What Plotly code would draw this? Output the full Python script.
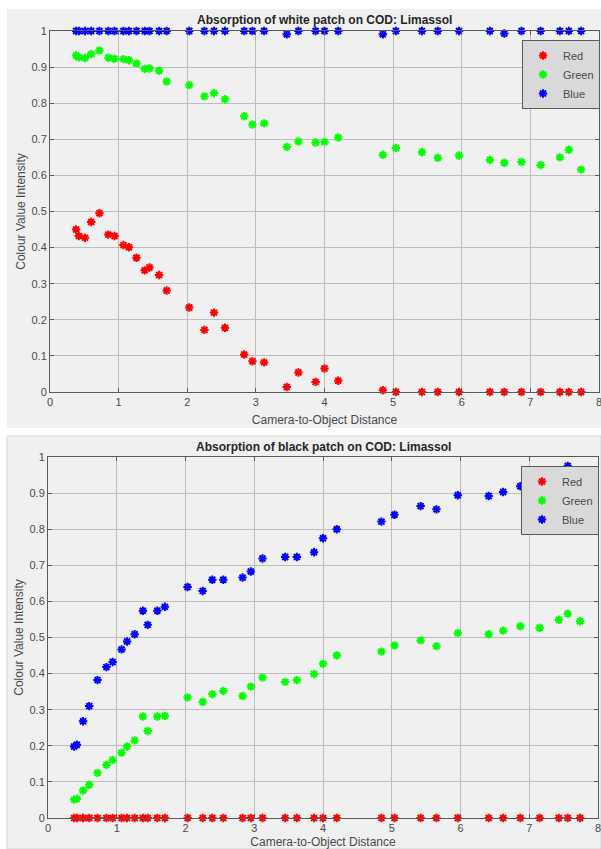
import plotly.graph_objects as go

W, H = 601, 849

# ---------------- data ----------------
dist = [0.38, 0.42, 0.51, 0.60, 0.72, 0.85, 0.94, 1.07, 1.15, 1.26, 1.38, 1.45, 1.59, 1.70,
        2.03, 2.25, 2.39, 2.55, 2.83, 2.95, 3.12, 3.45, 3.62, 3.87, 4.00, 4.20, 4.85, 5.04,
        5.42, 5.65, 5.96, 6.41, 6.62, 6.87, 7.15, 7.43, 7.56, 7.74]

white_red = [0.450, 0.432, 0.427, 0.471, 0.495, 0.436, 0.432, 0.407, 0.401, 0.372, 0.337, 0.345,
             0.324, 0.281, 0.234, 0.172, 0.220, 0.178, 0.104, 0.085, 0.082, 0.014, 0.054, 0.028,
             0.065, 0.031, 0.005, 0.0, 0.0, 0.0, 0.0, 0.0, 0.0, 0.0, 0.0, 0.0, 0.0, 0.0]
white_green = [0.932, 0.927, 0.925, 0.936, 0.946, 0.926, 0.923, 0.922, 0.919, 0.910, 0.895, 0.896,
               0.890, 0.860, 0.850, 0.819, 0.828, 0.811, 0.764, 0.741, 0.744, 0.679, 0.694, 0.691,
               0.693, 0.705, 0.657, 0.676, 0.664, 0.649, 0.655, 0.643, 0.635, 0.637, 0.629, 0.650,
               0.671, 0.616]
white_blue = [1.0, 1.0, 1.0, 1.0, 1.0, 1.0, 1.0, 1.0, 1.0, 1.0, 1.0, 1.0, 1.0, 1.0, 1.0, 1.0, 1.0,
              1.0, 1.0, 1.0, 1.0, 0.991, 1.0, 1.0, 1.0, 1.0, 0.991, 1.0, 1.0, 1.0, 1.0, 1.0, 0.993,
              1.0, 1.0, 1.0, 1.0, 1.0]

black_red = [0.0, 0.0, 0.0, 0.0, 0.0, 0.0, 0.0, 0.0, 0.0, 0.0, 0.0, 0.0, 0.0, 0.0, 0.0, 0.0, 0.0,
             0.0, 0.0, 0.0, 0.0, 0.0, 0.0, 0.0, 0.0, 0.0, 0.0, 0.0, 0.0, 0.0, 0.0, 0.0, 0.0, 0.0,
             0.0, 0.0, 0.0, 0.0]
black_green = [0.051, 0.053, 0.076, 0.092, 0.125, 0.147, 0.161, 0.181, 0.198, 0.215, 0.281, 0.241,
               0.281, 0.283, 0.334, 0.322, 0.343, 0.352, 0.338, 0.364, 0.389, 0.377, 0.382, 0.399,
               0.427, 0.450, 0.461, 0.478, 0.492, 0.476, 0.512, 0.509, 0.519, 0.531, 0.527, 0.549,
               0.566, 0.545]
black_blue = [0.198, 0.203, 0.268, 0.310, 0.382, 0.418, 0.432, 0.467, 0.489, 0.509, 0.574, 0.535,
              0.574, 0.585, 0.640, 0.629, 0.660, 0.660, 0.666, 0.683, 0.719, 0.723, 0.723, 0.736,
              0.775, 0.800, 0.821, 0.840, 0.864, 0.855, 0.894, 0.892, 0.903, 0.919, 0.930, 0.950,
              0.975, 0.960]

series_names = ["Red", "Green", "Blue"]
series_colors = ["#ff0000", "#00ff00", "#0000ff"]
titles = ["Absorption of white patch on COD: Limassol", "Absorption of black patch on COD: Limassol"]
x_title = "Camera-to-Object Distance"
y_title = "Colour Value Intensity"
x_ticks = [0, 1, 2, 3, 4, 5, 6, 7, 8]
y_ticks = [0, 0.1, 0.2, 0.3, 0.4, 0.5, 0.6, 0.7, 0.8, 0.9, 1]
y_tick_text = ["0", "0.1", "0.2", "0.3", "0.4", "0.5", "0.6", "0.7", "0.8", "0.9", "1"]

# ---------------- layout helpers (pixel -> paper) ----------------
def px(x):
    return x / W

def py(y):
    return 1 - y / H

FONT = "Liberation Sans, Arial, sans-serif"
PLOT_BG = "#d9d9d9"
FIG_BG = "#f0f0f0"
GRID = "#bdbdbd"
AXIS = "#5a5a5a"
TXT = "#4a4a4a"

fig = go.Figure()

panels = [
    dict(data=[white_red, white_green, white_blue], xa="x", ya="y", legend="legend",
         xdom=[px(50), px(599)], ydom=[py(392), py(31)]),
    dict(data=[black_red, black_green, black_blue], xa="x2", ya="y2", legend="legend2",
         xdom=[px(48), px(598)], ydom=[py(818), py(457)]),
]

for p in panels:
    for name, col, vals in zip(series_names, series_colors, p["data"]):
        fig.add_trace(go.Scatter(
            x=dist, y=vals, mode="markers", name=name,
            xaxis=p["xa"], yaxis=p["ya"], legend=p["legend"], cliponaxis=False,
            marker=dict(symbol="asterisk-open", size=7, color=col,
                        line=dict(color=col, width=2)),
        ))

def xaxis_cfg(dom, anchor):
    return dict(domain=dom, anchor=anchor, range=[0, 8], tickvals=x_ticks,
                ticks="inside", ticklen=4, tickcolor=AXIS, showline=True, linecolor=AXIS,
                linewidth=1, mirror="ticks", showgrid=True, gridcolor=GRID, gridwidth=1,
                zeroline=False, tickfont=dict(family=FONT, size=11, color=TXT),
                ticklabeloverflow="allow",
                title=dict(text=x_title, font=dict(family=FONT, size=12, color=TXT), standoff=8),
                fixedrange=True)

def yaxis_cfg(dom, anchor):
    return dict(domain=dom, anchor=anchor, range=[0, 1], tickvals=y_ticks, ticktext=y_tick_text,
                ticks="inside", ticklen=4, tickcolor=AXIS, showline=True, linecolor=AXIS,
                linewidth=1, mirror="ticks", showgrid=True, gridcolor=GRID, gridwidth=1,
                zeroline=False, tickfont=dict(family=FONT, size=11, color=TXT),
                ticklabeloverflow="allow",
                title=dict(text=y_title, font=dict(family=FONT, size=12, color=TXT), standoff=3),
                fixedrange=True)

legend_cfg = dict(xanchor="left", yanchor="top", bgcolor=PLOT_BG, bordercolor=AXIS,
                  borderwidth=1, font=dict(family=FONT, size=11, color=TXT),
                  tracegroupgap=0)

fig.update_layout(
    width=W, height=H, margin=dict(l=0, r=0, t=0, b=0, autoexpand=False),
    paper_bgcolor="white", plot_bgcolor=PLOT_BG, showlegend=True,
    xaxis=xaxis_cfg(panels[0]["xdom"], "y"),
    yaxis=yaxis_cfg(panels[0]["ydom"], "x"),
    xaxis2=xaxis_cfg(panels[1]["xdom"], "y2"),
    yaxis2=yaxis_cfg(panels[1]["ydom"], "x2"),
    legend=dict(x=px(522), y=py(40), **legend_cfg),
    legend2=dict(x=px(521), y=py(466), **legend_cfg),
    shapes=[
        dict(type="rect", xref="paper", yref="paper", x0=px(7), x1=1, y0=py(428), y1=py(9),
             fillcolor=FIG_BG, line=dict(width=0), layer="below"),
        dict(type="rect", xref="paper", yref="paper", x0=px(7), x1=1, y0=0, y1=py(436),
             fillcolor=FIG_BG, line=dict(color="#d6d6d6", width=1), layer="below"),
    ],
    annotations=[
        dict(text="<b>%s</b>" % titles[0], xref="paper", yref="paper",
             x=sum(panels[0]["xdom"]) / 2, y=py(20), xanchor="center", yanchor="middle",
             showarrow=False, font=dict(family=FONT, size=12, color="#262626")),
        dict(text="<b>%s</b>" % titles[1], xref="paper", yref="paper",
             x=sum(panels[1]["xdom"]) / 2, y=py(447), xanchor="center", yanchor="middle",
             showarrow=False, font=dict(family=FONT, size=12, color="#262626")),
    ],
)

post = (
    "var de=document.documentElement,b=document.body;"
    "de.style.margin='0';de.style.padding='0';de.style.overflow='hidden';de.style.height='849px';"
    "b.style.margin='0';b.style.padding='0';b.style.overflow='hidden';b.style.height='849px';"
    "var g=document.getElementById('{plot_id}');g.style.display='block';"
    "if(g.parentElement){g.parentElement.style.height='849px';g.parentElement.style.overflow='hidden';}"
)

fig.write_html("out.html", config={"displayModeBar": False}, post_script=post)
